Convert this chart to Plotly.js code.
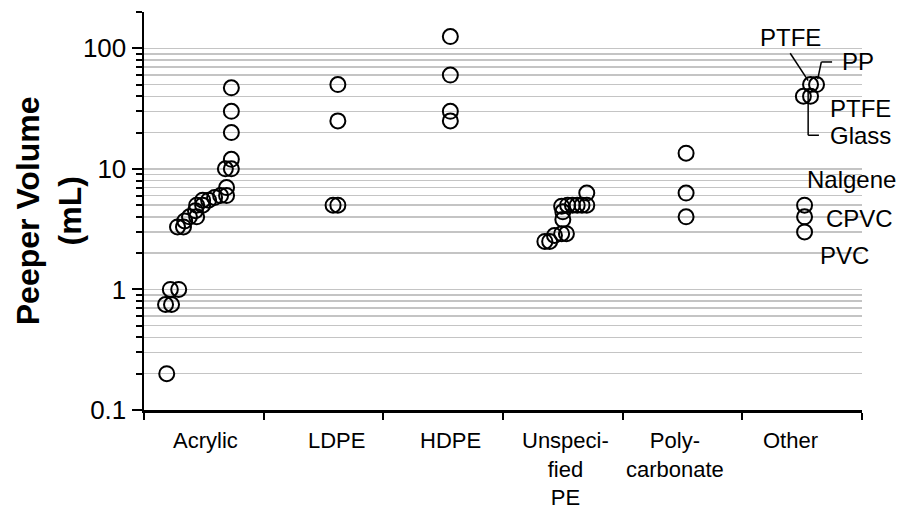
<!DOCTYPE html>
<html>
<head>
<meta charset="utf-8">
<script src="https://cdn.plot.ly/plotly-3.0.1.min.js"></script>
<style>html,body{margin:0;padding:0;background:#fff;}#chart{width:903px;height:521px;}</style>
</head>
<body>
<div id="chart"></div>
<script>
// Category labels and where their centres sit on the numeric x axis
const categories = ['Acrylic', 'LDPE', 'HDPE', 'Unspeci-<br>fied<br>PE', 'Poly-<br>carbonate', 'Other'];
const categoryLabelX = [0.51, 1.61, 2.56, 3.52, 4.44, 5.40];

// Peeper volumes (mL) with their jittered x positions
const acrylicX = [0.19, 0.18, 0.23, 0.22, 0.29, 0.28, 0.33, 0.34, 0.38, 0.44, 0.43, 0.44, 0.49, 0.49, 0.54, 0.59, 0.64, 0.69, 0.69, 0.68, 0.73, 0.73, 0.73, 0.73, 0.73];
const acrylicY = [0.2, 0.75, 0.75, 1, 1, 3.3, 3.3, 3.7, 4, 4, 4.5, 5, 5, 5.5, 5.5, 5.8, 6, 6, 7, 10, 10, 12, 20, 30, 47];
const ldpeX = [1.62, 1.62, 1.58, 1.62];
const ldpeY = [50, 25, 5, 5];
const hdpeX = [2.56, 2.56, 2.56, 2.56];
const hdpeY = [125, 60, 30, 25];
const unspecX = [3.35, 3.39, 3.43, 3.49, 3.53, 3.50, 3.50, 3.49, 3.54, 3.58, 3.62, 3.66, 3.70, 3.70];
const unspecY = [2.5, 2.5, 2.8, 2.9, 2.9, 3.8, 4.4, 4.9, 5, 5, 5, 5, 5, 6.3];
const polyX = [4.53, 4.53, 4.53];
const polyY = [13.5, 6.3, 4];
const otherX = [5.57, 5.62, 5.51, 5.57, 5.52, 5.52, 5.52];
const otherY = [50, 50, 40, 40, 5, 4, 3];
const otherNames = ['PTFE', 'PP', 'PTFE', 'Glass', 'Nalgene', 'CPVC', 'PVC'];

// Y axis ticks
const majorTicks = [0.1, 1, 10, 100];
const majorTickText = ['0.1', '1', '10', '100'];
const minorTicks = [0.2, 0.3, 0.4, 0.5, 0.6, 0.7, 0.8, 0.9, 2, 3, 4, 5, 6, 7, 8, 9, 20, 30, 40, 50, 60, 70, 80, 90, 200];
const yTitle = 'Peeper Volume<br>(mL)';

const FONT = 'Liberation Sans, Arial, sans-serif';
const marker = {symbol: 'circle', size: 15, color: 'rgba(0,0,0,0)', line: {color: '#000', width: 2}};
const series = [[acrylicX, acrylicY], [ldpeX, ldpeY], [hdpeX, hdpeY], [unspecX, unspecY], [polyX, polyY], [otherX, otherY]];
const traces = series.map((s, i) => ({
  type: 'scatter', mode: 'markers', x: s[0], y: s[1], marker: marker,
  name: categories[i], hoverinfo: 'x+y', cliponaxis: false
}));

// Text labels for the "Other" points (positions of the label boxes)
const noteX = [5.40, 5.82, 5.72, 5.72, 5.52, 5.68, 5.63];
const noteY = [123, 77, 31.8, 19, 8.2, 3.9, 1.9];
const noteAnchor = ['center', 'left', 'left', 'left', 'left', 'left', 'left'];

const annotations = categories.map((c, i) => ({
  text: c, x: categoryLabelX[i], xref: 'x', y: 0, yref: 'paper', yshift: -16,
  xanchor: 'center', yanchor: 'top', showarrow: false, align: 'center',
  font: {family: FONT, size: 22, color: '#000'}
}));
otherNames.forEach((n, i) => annotations.push({
  text: n, x: noteX[i], xref: 'x', y: Math.log10(noteY[i]), yref: 'y',
  xanchor: noteAnchor[i], yanchor: 'middle', showarrow: false,
  font: {family: FONT, size: 24, color: '#000'}
}));
annotations.push({
  text: '<b>' + yTitle + '</b>', textangle: -90, x: -0.132, xref: 'paper', y: 0.5, yref: 'paper',
  xanchor: 'center', yanchor: 'middle', showarrow: false,
  font: {family: FONT, size: 32, color: '#000'}
});

// Leader lines from labels to the points
function seg(x0, v0, x1, v1) {
  return {type: 'line', xref: 'x', yref: 'y', x0: x0, y0: v0, x1: x1, y1: v1,
    line: {color: '#000', width: 1.5}};
}
const shapes = [
  seg(5.40, 91, 5.55, 54),
  seg(5.75, 77, 5.66, 77), seg(5.66, 77, 5.63, 55.5),
  seg(5.55, 43.4, 5.55, 19), seg(5.55, 19, 5.64, 19)
];

const layout = {
  width: 903, height: 521,
  margin: {l: 144, r: 41, t: 12, b: 111},
  paper_bgcolor: '#fff', plot_bgcolor: '#fff',
  showlegend: false,
  font: {family: FONT, color: '#000'},
  xaxis: {
    range: [0, 6], tickmode: 'array', tickvals: [0, 1, 2, 3, 4, 5, 6], showticklabels: false,
    ticks: 'outside', ticklen: 7, tickwidth: 2, tickcolor: '#000',
    showline: true, linecolor: '#000', linewidth: 2.5, showgrid: false, zeroline: false, fixedrange: true
  },
  yaxis: {
    type: 'log', range: [-1, Math.log10(200)],
    tickmode: 'array', tickvals: majorTicks, ticktext: majorTickText,
    ticks: 'outside', ticklen: 10, tickwidth: 2, tickcolor: '#000',
    tickfont: {family: FONT, size: 26, color: '#000'},
    showline: true, linecolor: '#000', linewidth: 2.5,
    showgrid: true, gridcolor: '#c4c4c4', gridwidth: 1.5, zeroline: false,
    minor: {tickmode: 'array', tickvals: minorTicks, ticks: 'outside', ticklen: 6, tickwidth: 2,
      tickcolor: '#000', showgrid: true, gridcolor: '#c4c4c4', gridwidth: 1.5}
  },
  annotations: annotations,
  shapes: shapes
};

Plotly.newPlot('chart', traces, layout, {displayModeBar: false, staticPlot: true});
</script>
</body>
</html>
